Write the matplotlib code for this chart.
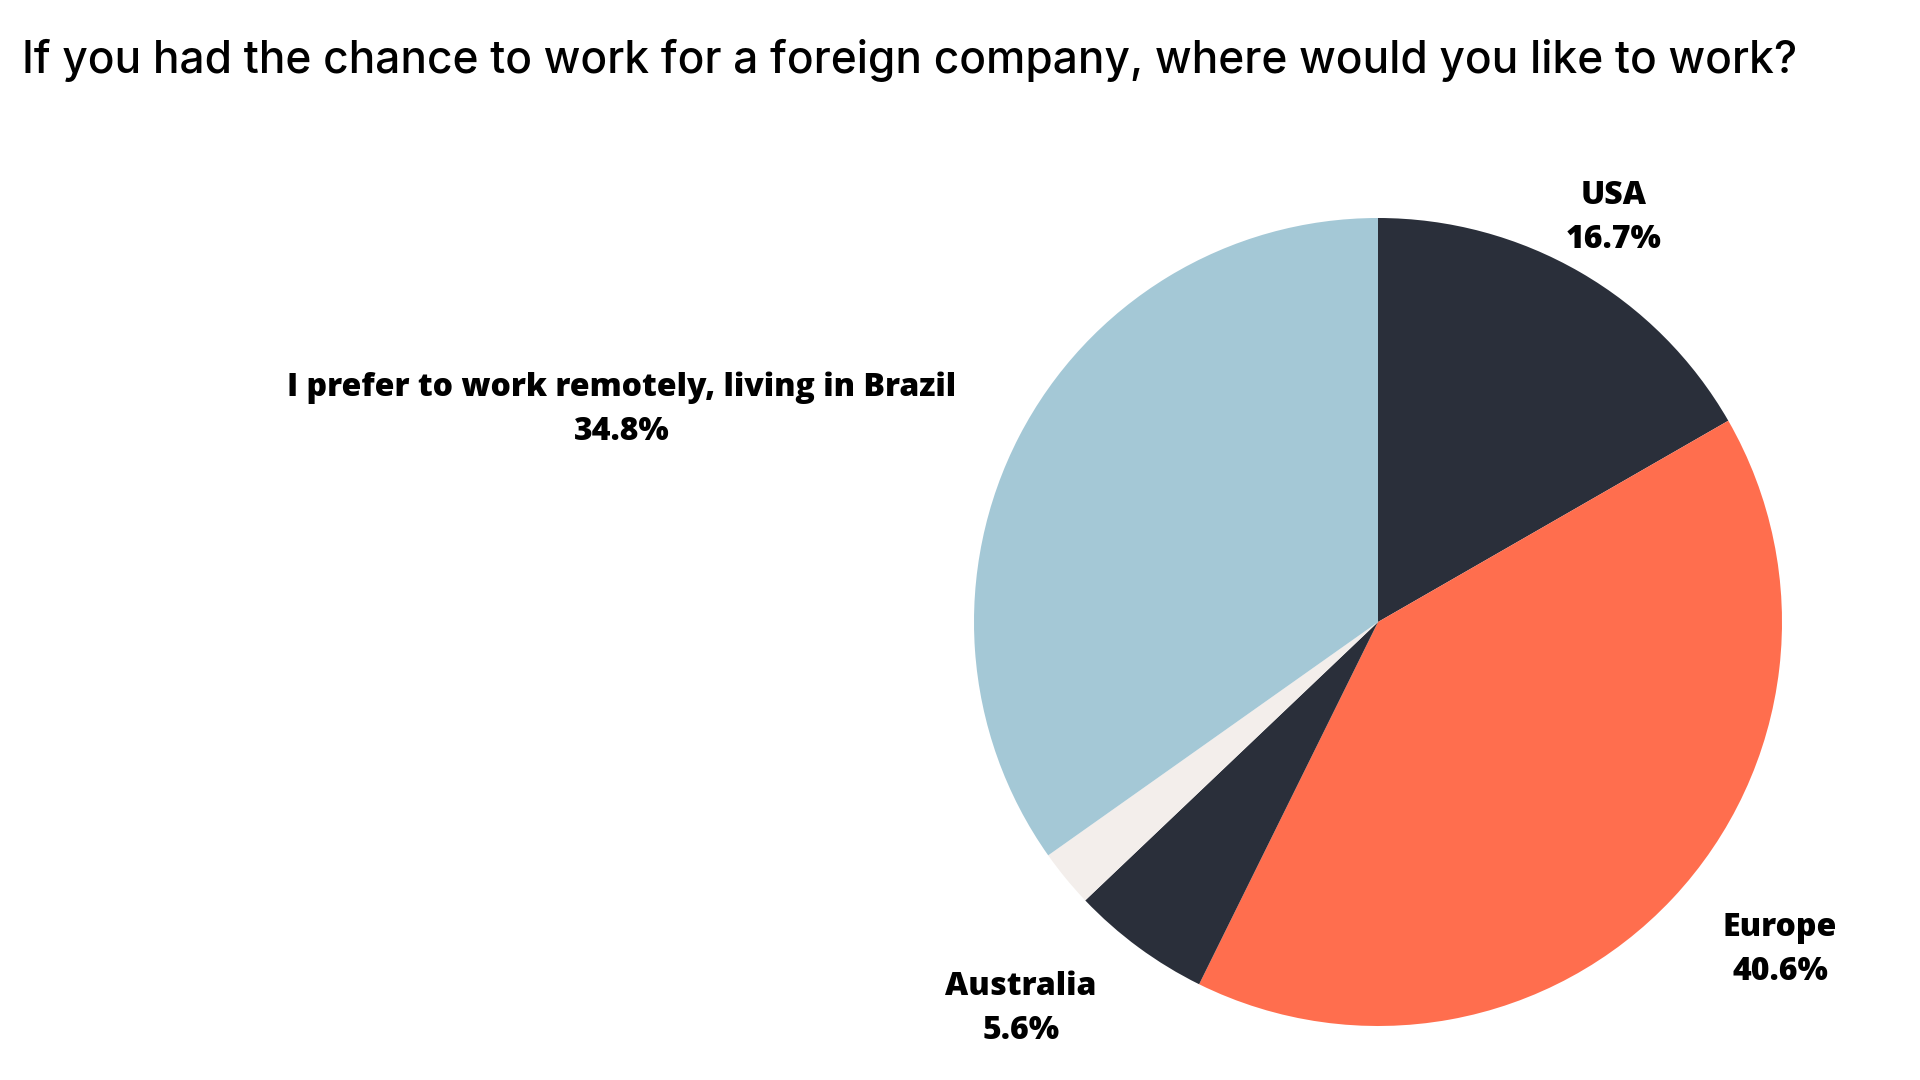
import matplotlib
matplotlib.use("Agg")
import matplotlib.pyplot as plt

# survey answers, clockwise from 12 o'clock
answers = ['USA', 'Europe', 'Australia', 'Other', 'I prefer to work remotely, living in Brazil']
shares = [16.7, 40.6, 5.6, 2.3, 34.8]
colours = ['#2a2f3a', '#ff6e4e', '#2a2f3a', '#f3eeeb', '#a4c8d6']
shown = [True, True, True, False, True]

title = 'If you had the chance to work for a foreign company, where would you like to work?'

W, H = 1920, 1080
fig = plt.figure(figsize=(W / 100, H / 100), dpi=100)
fig.patch.set_facecolor('white')

# pie centre (1378, 622) px from top-left, radius 404 px
cx, cy, r = 1378, 622, 404
ax = fig.add_axes([(cx - r) / W, (H - cy - r) / H, 2 * r / W, 2 * r / H])
wedges, _ = ax.pie(shares, colors=colours, startangle=90, counterclock=False,
                   wedgeprops=dict(linewidth=0))
ax.set_xlim(-1, 1)
ax.set_ylim(-1, 1)
ax.axis('off')

# title, fitted to the reference width
t = fig.text(22 / W, 1 - 73 / H, title, fontsize=36, family='Inter',
             weight='medium', color='#000000', ha='left', va='baseline')
fig.canvas.draw()
bb = t.get_window_extent(fig.canvas.get_renderer())
t.set_fontsize(36 * 1775 / bb.width)

# label placement (centre x, baseline of first line) in px
label_pos = {
    'USA': (1614, 204),
    'Europe': (1780, 936),
    'Australia': (1021, 995),
    'I prefer to work remotely, living in Brazil': (622, 396),
}
for name, val, show in zip(answers, shares, shown):
    if not show:
        continue
    x, y = label_pos[name]
    fig.text(x / W, 1 - y / H, name, fontsize=23, family='Open Sans',
             weight=800, ha='center', va='baseline', color='black')
    fig.text(x / W, 1 - (y + 44) / H, f'{val:.1f}%', fontsize=23,
             family='Open Sans', weight=800, ha='center', va='baseline',
             color='black')

fig.savefig('out.png', dpi=100, facecolor='white')
